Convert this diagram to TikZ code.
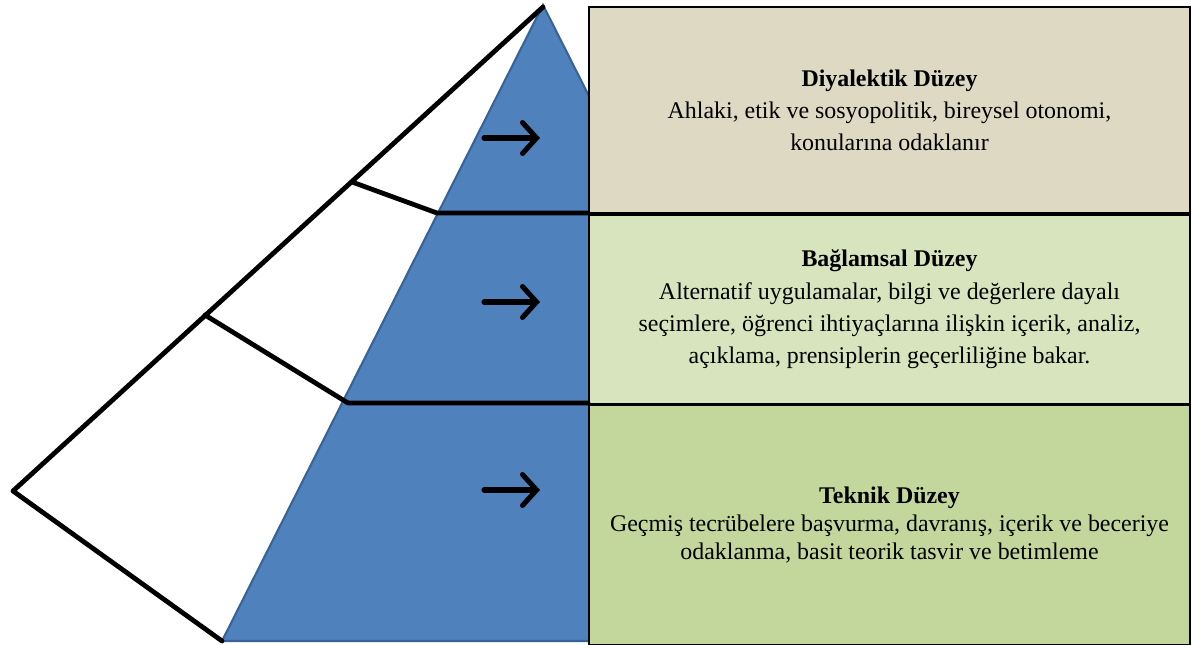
\documentclass[tikz,border=0pt]{standalone}
\usepackage{fontspec}
\setmainfont{Liberation Serif}
\usetikzlibrary{arrows.meta,positioning}

\definecolor{pyrblue}{HTML}{4F81BD}
\definecolor{pyredge}{HTML}{3A6395}
\definecolor{boxtan}{HTML}{DDD9C3}
\definecolor{boxlight}{HTML}{D7E4BD}
\definecolor{boxgreen}{HTML}{C3D69B}

\begin{document}
\begin{tikzpicture}[
    x=0.025cm, y=-0.025cm,
    level/.style   = {draw=black, line width=1.2pt, minimum width=15.025cm, inner sep=0pt,
                      align=center, font=\fontsize{17}{22.8}\selectfont},
    edge/.style    = {line width=3.4pt, line cap=round, line join=round},
    pointer/.style = {line width=3.6pt, line cap=round,
                      -{Straight Barb[length=10pt,width=22pt,line cap=round]}},
  ]
  \useasboundingbox (0,0) rectangle (1193,645);

  % Pyramide
  \coordinate (top) at (543,5);
  \coordinate (bl) at (222,641);
  \coordinate (br) at (864,641);
  \fill[pyrblue, draw=pyredge, line width=1.5pt] (top) -- (bl) -- (br) -- cycle;

  % Stufen
  \node[level, fill=boxtan, minimum height=5.15cm] (dia) at (889.5,110)
    {\textbf{Diyalektik Düzey}\\Ahlaki, etik ve sosyopolitik, bireysel otonomi,\\konularına odaklanır};
  \node[level, fill=boxlight, minimum height=4.725cm, below=0pt of dia] (bag)
    {\textbf{Bağlamsal Düzey}\\Alternatif uygulamalar, bilgi ve değerlere dayalı\\seçimlere, öğrenci ihtiyaçlarına ilişkin içerik, analiz,\\açıklama, prensiplerin geçerliliğine bakar.};
  \node[level, fill=boxgreen, minimum height=5.975cm, below=0pt of bag,
        font=\fontsize{17}{20}\selectfont] (tek)
    {\textbf{Teknik Düzey}\\Geçmiş tecrübelere başvurma, davranış, içerik ve beceriye\\odaklanma, basit teorik tasvir ve betimleme};

  % Umriss
  \coordinate (tip) at (543,7);
  \coordinate (far) at (13,491);
  \coordinate (foot) at (222,641);
  \coordinate (s1) at (352,182);
  \coordinate (k1) at (437,213);
  \coordinate (s2) at (205,315);
  \coordinate (k2) at (348,403);
  \draw[edge] (tip) -- (far) -- (foot);
  \draw[edge] (s1) -- (k1) -- (k1 -| dia.west);
  \draw[edge] (s2) -- (k2) -- (k2 -| bag.west);

  % Pfeile
  \coordinate (a1) at (484,138);
  \coordinate (a2) at (484,302);
  \coordinate (a3) at (484,490);
  \draw[pointer] (a1) -- ++(56,0);
  \draw[pointer] (a2) -- ++(56,0);
  \draw[pointer] (a3) -- ++(56,0);
\end{tikzpicture}
\end{document}
